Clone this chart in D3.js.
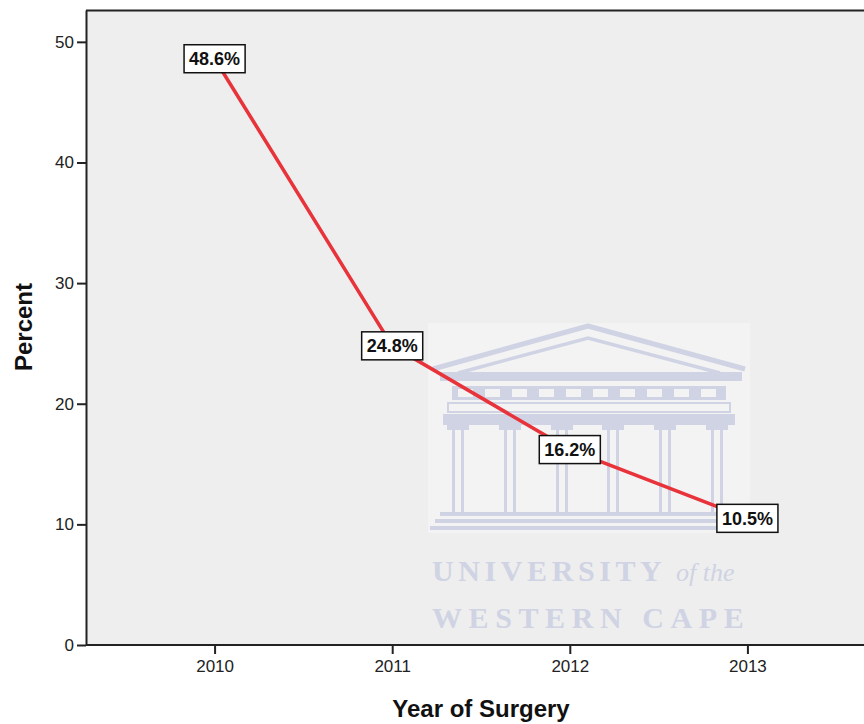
<!DOCTYPE html>
<meta charset="utf-8">
<head>
    <title>Percent by Year of Surgery</title>
    <script src="https://cdn.jsdelivr.net/npm/d3@7/dist/d3.min.js"></script>
</head>
<style>
    body{ margin:0; background:#fff; }
    text{ font-family: "Liberation Sans", Arial, sans-serif; }
</style>
<svg width="864" height="724"></svg>
<script>
    // data
    var years = ['2010', '2011', '2012', '2013'],
        percents = [48.6, 24.8, 16.2, 10.5],
        yTicks = [0, 10, 20, 30, 40, 50];

    var svg = d3.select('svg'),
        pLeft = 86, pTop = 10, pBottom = 645, pRight = 876,
        wm = '#cfd3e3';

    var x = d3.scalePoint().domain(years).range([pLeft, pRight]).padding(0.724),
        y = d3.scaleLinear().domain([0, 52.64]).range([pBottom, pTop]);

    // plot background
    svg.append('rect')
        .attr('x', pLeft).attr('y', pTop)
        .attr('width', pRight - pLeft).attr('height', pBottom - pTop)
        .style('fill', '#eeeeee');

    // watermark (UWC logo)
    var w = svg.append('g').attr('class', 'watermark');
    w.append('rect').attr('x', 428).attr('y', 323).attr('width', 322).attr('height', 210).style('fill', '#f3f3f3');
    w.append('polyline').attr('points', '433,369 588,326 745,369')
        .style('fill', 'none').style('stroke', wm).style('stroke-width', 5).style('stroke-linejoin', 'round');
    w.append('polyline').attr('points', '458,373 588,338 720,373')
        .style('fill', 'none').style('stroke', wm).style('stroke-width', 3.5);
    w.append('rect').attr('x', 440).attr('y', 372).attr('width', 302).attr('height', 9).style('fill', wm);
    w.append('rect').attr('x', 452).attr('y', 386).attr('width', 274).attr('height', 14).style('fill', wm);
    d3.range(0, 10).forEach(function(i){
        w.append('rect').attr('x', 458 + i * 27).attr('y', 389).attr('width', 15).attr('height', 8).style('fill', '#f3f3f3');
    });
    w.append('rect').attr('x', 448).attr('y', 403).attr('width', 282).attr('height', 9)
        .style('fill', 'none').style('stroke', wm).style('stroke-width', 2);
    w.append('rect').attr('x', 443).attr('y', 414).attr('width', 292).attr('height', 11).style('fill', wm);
    [458, 510, 562, 613, 665, 717].forEach(function(cx){
        w.append('rect').attr('x', cx - 11).attr('y', 425).attr('width', 22).attr('height', 5).style('fill', wm);
        w.append('rect').attr('x', cx - 6).attr('y', 430).attr('width', 3).attr('height', 82).style('fill', wm);
        w.append('rect').attr('x', cx + 3).attr('y', 430).attr('width', 3).attr('height', 82).style('fill', wm);
    });
    [512, 519, 526].forEach(function(sy, i){
        w.append('rect').attr('x', 440 - i * 5).attr('y', sy).attr('width', 300 + i * 10).attr('height', 4).style('fill', wm);
    });
    w.append('text').attr('x', 432).attr('y', 581)
        .style('font-family', '"Liberation Serif", "Times New Roman", serif')
        .style('font-size', '30px').style('font-weight', 'bold').style('letter-spacing', '4.6px').style('fill', wm)
        .text('UNIVERSITY');
    w.append('text').attr('x', 676).attr('y', 581)
        .style('font-family', '"Liberation Serif", "Times New Roman", serif')
        .style('font-size', '26px').style('font-style', 'italic').style('fill', wm)
        .text('of the');
    w.append('text').attr('x', 432).attr('y', 628)
        .style('font-family', '"Liberation Serif", "Times New Roman", serif')
        .style('font-size', '30px').style('font-weight', 'bold').style('letter-spacing', '6.6px').style('fill', wm)
        .text('WESTERN CAPE');

    // frame top
    svg.append('line').attr('x1', pLeft).attr('x2', 864).attr('y1', pTop + 0.5).attr('y2', pTop + 0.5)
        .style('stroke', '#222').style('stroke-width', 2);

    // axes
    var yAxis = svg.append('g').attr('transform', 'translate(' + pLeft + ',0)')
        .call(d3.axisLeft(y).tickValues(yTicks).tickSize(9).tickPadding(3).tickSizeOuter(0));
    var xAxis = svg.append('g').attr('transform', 'translate(0,' + pBottom + ')')
        .call(d3.axisBottom(x).tickSize(9).tickPadding(6).tickSizeOuter(0));

    [yAxis, xAxis].forEach(function(a){
        a.attr('font-size', null);
        a.select('.domain').style('stroke', '#222').style('stroke-width', 2);
        a.selectAll('.tick line').style('stroke', '#222').style('stroke-width', 2);
        a.selectAll('.tick text').attr('font-family', '"Liberation Sans", Arial, sans-serif')
            .attr('font-size', 17).style('fill', '#222');
    });
    xAxis.select('.domain').attr('d', 'M' + pLeft + ',0H864');

    // line
    var pts = years.map(function(d, i){ return [x(d), y(percents[i])]; });
    svg.append('path')
        .attr('d', d3.line()(pts))
        .style('fill', 'none')
        .style('stroke', '#e8333b')
        .style('stroke-width', 3.5);

    // value labels
    var lab = svg.selectAll('.lab').data(pts).enter().append('g')
        .attr('class', 'lab')
        .attr('transform', function(d){ return 'translate(' + d[0] + ',' + d[1] + ')'; });
    lab.append('rect').style('fill', '#fff').style('stroke', '#111').style('stroke-width', 1.5);
    lab.append('text')
        .attr('text-anchor', 'middle').attr('dy', '0.36em')
        .style('font-size', '18px').style('font-weight', 'bold').style('fill', '#111')
        .text(function(d, i){ return percents[i].toFixed(1) + '%'; });
    lab.each(function(){
        var g = d3.select(this), bb = g.select('text').node().getBBox();
        g.select('rect').attr('x', -bb.width / 2 - 5).attr('y', -14)
            .attr('width', bb.width + 10).attr('height', 28);
    });

    // axis titles
    svg.append('text').attr('x', 481).attr('y', 717).attr('text-anchor', 'middle')
        .style('font-size', '24px').style('font-weight', 'bold').style('fill', '#111')
        .text('Year of Surgery');
    svg.append('text').attr('transform', 'translate(32,327) rotate(-90)').attr('text-anchor', 'middle')
        .style('font-size', '24px').style('font-weight', 'bold').style('fill', '#111')
        .text('Percent');
</script>
